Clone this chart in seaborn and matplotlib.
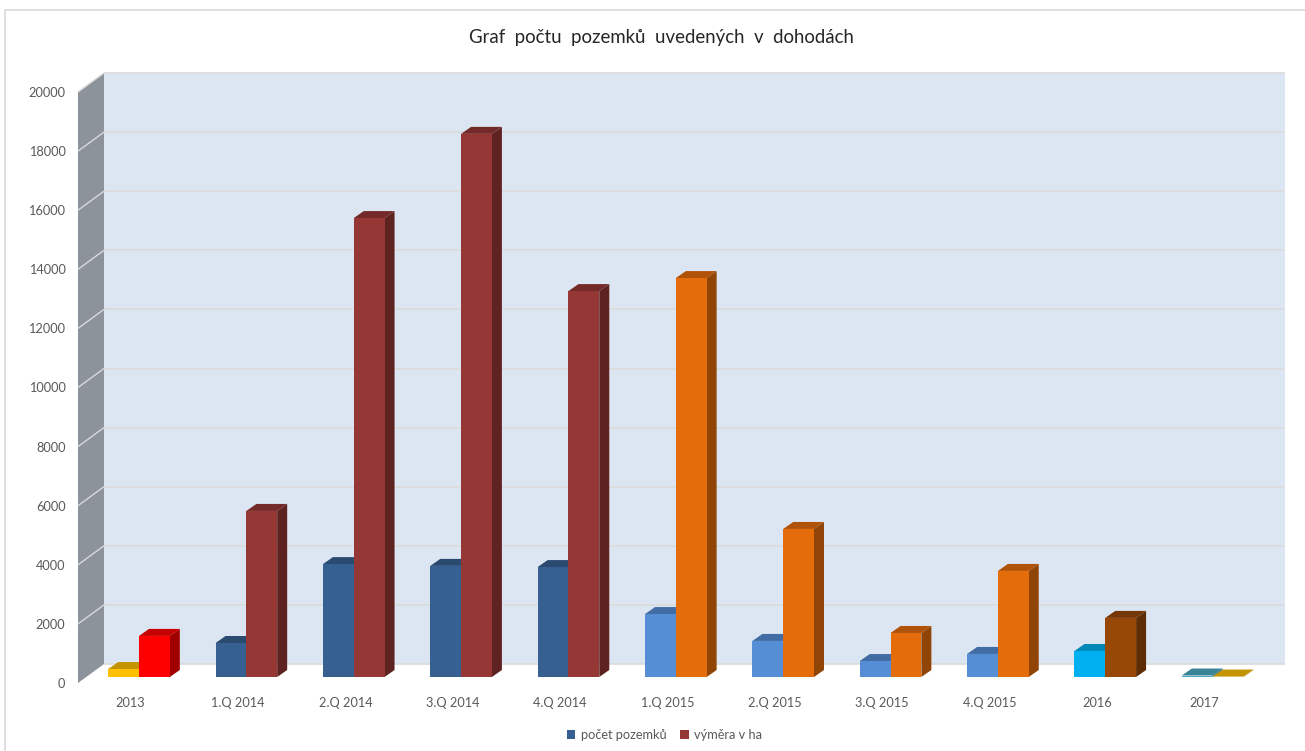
import seaborn as sns
import numpy as np
import pandas as pd
import matplotlib.pyplot as plt
from matplotlib.patches import Polygon, Rectangle
from matplotlib.colors import to_rgb
from matplotlib.transforms import Affine2D

# values
periods = ["2013", "1.Q 2014", "2.Q 2014", "3.Q 2014", "4.Q 2014", "1.Q 2015",
           "2.Q 2015", "3.Q 2015", "4.Q 2015", "2016", "2017"]
pocet_pozemku = [270, 1150, 3820, 3760, 3720, 2130, 1220, 540, 780, 880, 50]
vymera_ha = [1390, 5620, 15530, 18380, 13060, 13500, 5010, 1490, 3590, 2000, 15]
serie_names = ["počet pozemků", "výměra v ha"]
y_ticks = list(range(0, 20001, 2000))

pocet_colors = ["#FFC000"] + ["#376092"] * 4 + ["#558ED5"] * 4 + ["#00B0F0", "#4BACC6"]
vymera_colors = ["#FF0000"] + ["#953735"] * 4 + ["#E46C0A"] * 4 + ["#974706", "#FFC000"]

df = pd.DataFrame({
    "obdobi": periods * 2,
    "hodnota": pocet_pozemku + vymera_ha,
    "serie": [serie_names[0]] * 11 + [serie_names[1]] * 11,
})

W, H = 1305, 751
# front plane of the fake 3D box, in pixels
L, R, B, T = 78, 1259, 683, 92

sns.set_style("white")
plt.rcParams["font.family"] = ["Lato", "DejaVu Sans"]
TXT = "#595959"

fig = plt.figure(figsize=(W / 100, H / 100), dpi=100)
ax = fig.add_axes([L / W, (H - B) / H, (R - L) / W, (B - T) / H])
sns.barplot(data=df, x="obdobi", y="hodnota", hue="serie", order=periods,
            palette=["#376092", "#953735"], width=0.574, gap=0, errorbar=None,
            linewidth=0, saturation=1, ax=ax)
x0, x1 = -0.49, 10.51
ax.set_ylim(0, 20000)

# pixels to data units
px_x = 11 / (R - L)
px_y = 20000 / (B - T)
box_dx, box_dy = 26 * px_x, 19 * px_y    # whole depth of the box
bar_ox, bar_oy = 8.4 * px_x, 6 * px_y    # bars stand a bit inside the box
bar_dx, bar_dy = 10 * px_x, 7 * px_y     # depth of one bar


def shade(c, f):
    return tuple(v * f for v in to_rgb(c))


# walls
ax.add_patch(Rectangle((x0 + box_dx, box_dy), x1 - x0, 20000, fc="#DCE6F2", ec="none",
                       clip_on=False, zorder=0))
ax.add_patch(Polygon([(x0, 0), (x0, 20000), (x0 + box_dx, 20000 + box_dy), (x0 + box_dx, box_dy)],
                     fc="#8C939B", ec="none", clip_on=False, zorder=0.5))
for t in y_ticks:
    ax.plot([x0 + box_dx, x1 + box_dx], [t + box_dy, t + box_dy], color="#DADADA", lw=1.2,
            clip_on=False, zorder=0.6, solid_capstyle="butt")
    if t > 0:
        ax.plot([x0, x0 + box_dx], [t, t + box_dy], color="#D9D9D9", lw=1,
                clip_on=False, zorder=0.6)

# front faces come from seaborn, top and side faces are built on them
shift = Affine2D().translate(bar_ox, bar_oy) + ax.transData
for s, (container, colors) in enumerate(zip(ax.containers, [pocet_colors, vymera_colors])):
    for i, (p, col) in enumerate(zip(container, colors)):
        z = 2 + i + s * 0.5
        xa = p.get_x() + bar_ox
        xb = xa + p.get_width()
        h = p.get_height() + bar_oy
        y0 = bar_oy
        p.set_facecolor(col)
        p.set_edgecolor("none")
        p.set_transform(shift)
        p.set_clip_on(False)
        p.set_zorder(z + 0.2)
        ax.add_patch(Polygon([(xb, y0), (xb + bar_dx, y0 + bar_dy), (xb + bar_dx, h + bar_dy), (xb, h)],
                             fc=shade(col, 0.63), ec="none", clip_on=False, zorder=z))
        ax.add_patch(Polygon([(xa, h), (xa + bar_dx, h + bar_dy), (xb + bar_dx, h + bar_dy), (xb, h)],
                             fc=shade(col, 0.77), ec="none", clip_on=False, zorder=z + 0.1))

ax.set_xlabel("")
ax.set_ylabel("")
ax.set_xlim(x0, x1)
ax.set_yticks(y_ticks)
ax.tick_params(axis="y", length=0, pad=9, labelsize=9.2, labelcolor=TXT)
ax.tick_params(axis="x", length=0, pad=10, labelsize=9.2, labelcolor=TXT)
sns.despine(ax=ax, left=True, bottom=True)

sns.move_legend(ax, "center", bbox_to_anchor=(664.5 / W, (H - 735) / H),
                bbox_transform=fig.transFigure, ncol=2, frameon=False, title=None,
                fontsize=9.2, handlelength=0.65, handleheight=0.65, handletextpad=0.45,
                columnspacing=1.1, labelcolor=TXT)

fig.text(661 / W, (H - 37) / H, "Graf  počtu  pozemků  uvedených  v  dohodách",
         ha="center", va="center", fontsize=13.4, color="#262626")

# chart frame, runs off the picture on the right and bottom
fig.add_artist(Rectangle((5.5 / W, -0.1), 1.2, (H - 10) / H + 0.1, fc="none",
                         ec="#D9D9D9", lw=1.2, transform=fig.transFigure))

fig.savefig("out.png", dpi=100)
